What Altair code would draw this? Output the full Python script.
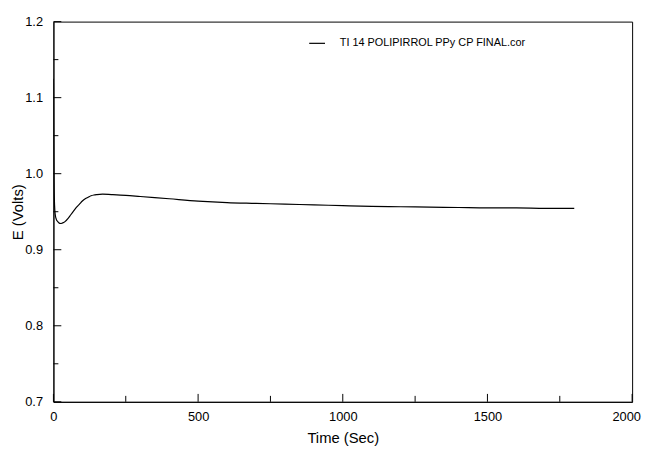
import altair as alt
import pandas as pd

# Data
time_s = [0, 1, 2, 4, 6, 10, 15, 20, 25, 30, 40, 50, 60, 70, 80, 90, 100, 110, 120,
          130, 140, 150, 170, 200, 250, 300, 400, 500, 600, 700, 800, 900, 1000, 1100,
          1200, 1300, 1400, 1500, 1600, 1700, 1800]
e_volts = [1.125, 1.05, 0.99, 0.958, 0.947, 0.940, 0.937, 0.935, 0.9345, 0.935, 0.937,
           0.941, 0.946, 0.951, 0.956, 0.960, 0.964, 0.967, 0.969, 0.971, 0.972, 0.9725,
           0.973, 0.9725, 0.9715, 0.970, 0.967, 0.964, 0.962, 0.961, 0.960, 0.959, 0.958,
           0.957, 0.9565, 0.956, 0.9555, 0.955, 0.955, 0.9545, 0.9545]
series_name = "TI 14 POLIPIRROL PPy CP FINAL.cor"

x_major = [0, 500, 1000, 1500, 2000]
x_minor = [250, 750, 1250, 1750]
y_major = [0.7, 0.8, 0.9, 1.0, 1.1, 1.2]
y_minor = [0.75, 0.85, 0.95, 1.05, 1.15]

W, H = 586, 385
FONT = "Liberation Sans"

df = pd.DataFrame({"t": time_s, "E": e_volts, "series": series_name})

xs = alt.Scale(domain=[0, 2000], nice=False)
ys = alt.Scale(domain=[0.7, 1.2], nice=False, zero=False)

line = alt.Chart(df).mark_line(strokeWidth=1.2, clip=True, interpolate="monotone").encode(
    x=alt.X("t:Q", scale=xs, title="Time (Sec)",
            axis=alt.Axis(values=x_major, format="d", ticks=False, grid=False,
                          labelPadding=9, titleY=41, titleBaseline="alphabetic",
                          domainColor="black", labelFlush=False,
                          labelOffset=alt.condition("datum.value == 2000",
                                                    alt.value(-6), alt.value(0)))),
    y=alt.Y("E:Q", scale=ys, title="E (Volts)",
            axis=alt.Axis(values=y_major, format=".1f", ticks=False, grid=False,
                          labelPadding=11, titleX=-31, titleBaseline="alphabetic",
                          domainColor="black")),
    color=alt.Color("series:N", scale=alt.Scale(range=["black"]),
                    legend=alt.Legend(orient="none", legendX=258, legendY=13, title=None,
                                      symbolType="stroke", symbolSize=256,
                                      symbolStrokeWidth=1.2, labelFontSize=11,
                                      labelOffset=14, padding=0, labelFont=FONT,
                                      labelLimit=0, labelColor="black")),
)

xmaj = alt.Chart(pd.DataFrame({"v": x_major})).mark_rule(color="black").encode(
    x=alt.X("v:Q", scale=xs), y=alt.value(H), y2=alt.value(H - 8))
xmin = alt.Chart(pd.DataFrame({"v": x_minor})).mark_rule(color="black").encode(
    x=alt.X("v:Q", scale=xs), y=alt.value(H), y2=alt.value(H - 6))
ymaj = alt.Chart(pd.DataFrame({"v": y_major})).mark_rule(color="black").encode(
    y=alt.Y("v:Q", scale=ys), x=alt.value(0), x2=alt.value(8))
ymin = alt.Chart(pd.DataFrame({"v": y_minor})).mark_rule(color="black").encode(
    y=alt.Y("v:Q", scale=ys), x=alt.value(0), x2=alt.value(5))

chart = alt.layer(line, xmaj, xmin, ymaj, ymin).properties(
    width=W, height=H,
    autosize=alt.AutoSizeParams(type="none"),
    padding={"left": 46, "top": 11, "right": 10, "bottom": 44},
    background="white",
).configure_view(stroke="black", strokeWidth=1).configure_axis(
    labelFont=FONT, titleFont=FONT, labelFontSize=13, titleFontSize=15,
    titleFontWeight="normal", labelColor="black", titleColor="black",
)

chart.save("out.html", embed_options={"renderer": "svg", "actions": False})
